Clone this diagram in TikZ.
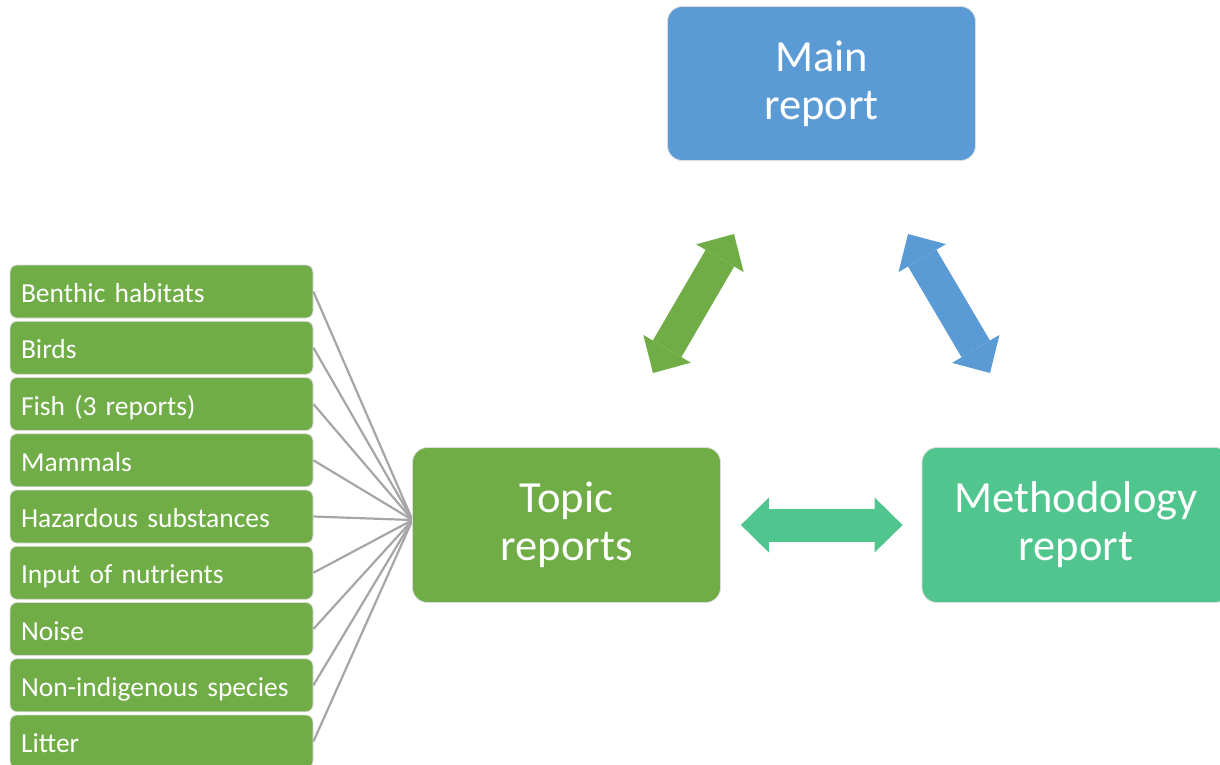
\documentclass[tikz,border=0pt]{standalone}
\usepackage{fontspec}
\setmainfont{Carlito}
\usetikzlibrary{arrows.meta}
\definecolor{mainblue}{HTML}{5B9BD5}
\definecolor{topicgreen}{HTML}{70AD47}
\definecolor{methgreen}{HTML}{50C58E}
\definecolor{linegray}{HTML}{A6A6A6}
\definecolor{rim}{HTML}{DCDCDC}
\tikzset{
  bigbox/.style={draw=rim, line width=0.8pt, rounded corners=15pt, minimum width=308pt, minimum height=154pt,
    text=white, align=center, inner sep=0pt, font=\fontsize{44.5}{48}\selectfont},
  smallbox/.style={draw=rim, line width=0.8pt, fill=topicgreen, rounded corners=7pt, minimum width=303pt, minimum height=53pt,
    text=white, text width=281pt, align=left, inner xsep=11pt, inner ysep=0pt, text height=22pt, text depth=0pt,
    font=\fontsize{27.5}{30}\selectfont},
  spoke/.style={draw=linegray, line width=2.2pt},
  blockarrow/.style={line width=33pt,
    {Triangle[length=28pt,width=55pt,line width=0pt]}-{Triangle[length=28pt,width=55pt,line width=0pt]}}
}
\begin{document}
\begin{tikzpicture}[x=1pt,y=-1pt]
\useasboundingbox (0,0) rectangle (1220,764);
\clip (0,0) rectangle (1220,764);
% small topic boxes
\foreach \t [count=\i] in {Benthic habitats, Birds, Fish (3 reports), Mammals, Hazardous substances, Input of nutrients, Noise, Non-indigenous species, Litter}
  \node[smallbox] (s\i) at (161.5, {291.5+56.25*(\i-1)}) {\t};
% hub where the spokes meet
\coordinate (hub) at (412.5,520);
\foreach \i in {1,...,9}
  \draw[spoke] (s\i.east) -- (hub);
% main boxes
\node[bigbox, fill=mainblue] (main) at (821.5,83.5) {Main\\report};
\node[bigbox, fill=topicgreen, minimum height=155pt] (topic) at (566.5,525) {Topic\\reports};
\node[bigbox, fill=methgreen, minimum height=155pt] (meth) at (1076,525) {Methodology\\report};
% arrows
\coordinate (g1) at (653,373);
\coordinate (g2) at (734,234);
\coordinate (b1) at (908,234);
\coordinate (b2) at (990,373);
\draw[blockarrow, draw=topicgreen] (g1) -- (g2);
\draw[blockarrow, draw=mainblue] (b1) -- (b2);
\draw[blockarrow, draw=methgreen, shorten <=20pt, shorten >=19pt] (topic.east) -- (meth.west);
\end{tikzpicture}
\end{document}
